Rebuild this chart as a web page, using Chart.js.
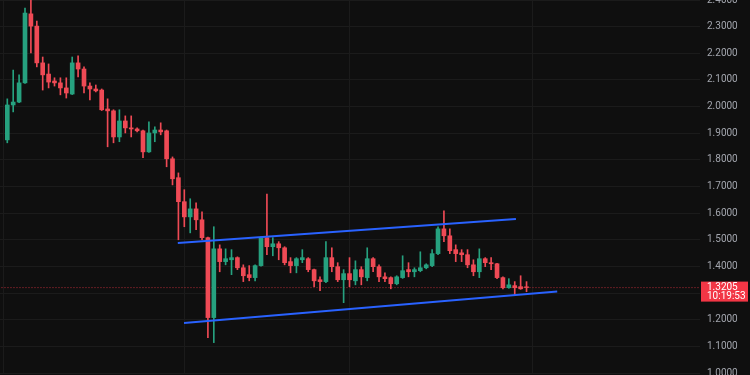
<!DOCTYPE html>
<html>
<head>
<meta charset="utf-8">
<script src="https://cdn.jsdelivr.net/npm/chart.js@4.4.0/dist/chart.umd.min.js"></script>
<style>
  html, body { margin: 0; padding: 0; background: #0f0f0f; }
  #wrap { width: 750px; height: 375px; position: relative; }
</style>
</head>
<body>
<div id="wrap"><canvas id="candleChart"></canvas></div>
<script>
// bougies (OHLC)
var opens = [1.875,2.006,2.017,2.089,2.348,2.302,2.164,2.122,2.096,2.089,
  2.070,2.047,2.164,2.141,2.077,2.066,2.062,1.991,1.984,1.886,
  1.946,1.920,1.916,1.909,1.830,1.901,1.912,1.909,1.804,1.733,
  1.643,1.586,1.616,1.575,1.508,1.208,1.466,1.418,1.425,1.433,
  1.395,1.369,1.358,1.403,1.508,1.474,1.485,1.470,1.418,1.403,
  1.425,1.429,1.388,1.350,1.343,1.433,1.399,1.350,1.373,1.346,
  1.388,1.358,1.429,1.399,1.361,1.358,1.335,1.358,1.388,1.380,
  1.384,1.395,1.403,1.448,1.541,1.515,1.463,1.451,1.444,1.406,
  1.380,1.429,1.414,1.410,1.358,1.320,1.328,1.324,1.3235];
var closes = [2.006,2.017,2.089,2.351,2.302,2.164,2.119,2.092,2.089,2.070,
  2.051,2.164,2.141,2.077,2.066,2.059,1.988,1.984,1.886,1.946,
  1.920,1.916,1.909,1.830,1.901,1.912,1.905,1.804,1.729,1.643,
  1.586,1.616,1.575,1.508,1.208,1.466,1.418,1.429,1.433,1.395,
  1.365,1.358,1.403,1.508,1.474,1.485,1.470,1.414,1.403,1.429,
  1.433,1.388,1.346,1.343,1.433,1.399,1.350,1.373,1.350,1.388,
  1.361,1.429,1.399,1.361,1.354,1.335,1.361,1.384,1.380,1.388,
  1.395,1.406,1.448,1.541,1.515,1.459,1.448,1.444,1.406,1.380,
  1.429,1.414,1.410,1.358,1.320,1.331,1.320,1.316,1.3205];
var highs = [2.029,2.137,2.119,2.370,2.42,2.321,2.186,2.160,2.108,2.108,
  2.108,2.186,2.190,2.149,2.089,2.081,2.066,2.029,1.988,1.988,
  1.965,1.965,1.920,1.912,1.943,1.924,1.939,1.912,1.811,1.751,
  1.688,1.654,1.639,1.605,1.510,1.549,1.481,1.466,1.463,1.436,
  1.406,1.403,1.406,1.511,1.672,1.508,1.493,1.474,1.433,1.433,
  1.463,1.433,1.390,1.361,1.493,1.470,1.414,1.388,1.433,1.421,
  1.399,1.470,1.433,1.406,1.376,1.361,1.365,1.440,1.414,1.395,
  1.455,1.410,1.463,1.549,1.609,1.541,1.481,1.463,1.463,1.425,
  1.466,1.433,1.433,1.412,1.361,1.354,1.343,1.365,1.343];
var lows = [1.864,1.980,2.015,2.087,2.201,2.149,2.062,2.070,2.077,2.044,
  2.032,2.045,2.111,2.051,2.025,2.055,1.985,1.849,1.864,1.868,
  1.901,1.886,1.905,1.808,1.828,1.868,1.894,1.774,1.706,1.500,
  1.549,1.526,1.538,1.500,1.133,1.114,1.380,1.406,1.369,1.388,
  1.343,1.346,1.346,1.401,1.444,1.440,1.425,1.406,1.376,1.376,
  1.414,1.380,1.324,1.309,1.339,1.380,1.343,1.264,1.324,1.331,
  1.331,1.346,1.380,1.343,1.343,1.316,1.331,1.355,1.361,1.361,
  1.380,1.391,1.399,1.444,1.493,1.448,1.418,1.418,1.395,1.365,
  1.358,1.399,1.388,1.354,1.316,1.318,1.294,1.314,1.305];

// canal (index de bougie, prix)
var channelUpper = [[28.9, 1.488], [86.2, 1.578]];
var channelLower = [[29.95, 1.188], [93.2, 1.306]];

var lastPrice = 1.3205;
var lastTime = "10:19:53";
var dayLines = [-0.7, 30, 58, 89];

var green = '#26a17f', red = '#ef4a55';

document.addEventListener("DOMContentLoaded", function () {
  var colors = opens.map(function (o, i) { return closes[i] >= o ? green : red; });
  var wicks = opens.map(function (o, i) { return { x: i, y: [lows[i], highs[i]] }; });
  var bodies = opens.map(function (o, i) { return { x: i, y: [o, closes[i]] }; });
  var toPts = function (arr) { return arr.map(function (p) { return { x: p[0], y: p[1] }; }); };

  var priceLabel = {
    id: 'priceLabel',
    afterDraw: function (chart) {
      var c = chart.ctx, a = chart.chartArea;
      var y = chart.scales.y.getPixelForValue(lastPrice);
      c.save();
      c.fillStyle = '#f23645';
      c.fillRect(a.right + 1, y - 6, chart.width - a.right - 3, 20);
      c.fillStyle = '#ffffff';
      c.font = '10px Roboto';
      c.textBaseline = 'middle';
      c.fillText(lastPrice.toFixed(4), a.right + 7, y);
      c.fillText(lastTime, a.right + 7, y + 9);
      c.restore();
    }
  };

  var ctx = document.getElementById("candleChart").getContext("2d");
  new Chart(ctx, {
    type: 'bar',
    data: {
      datasets: [
        { type: 'line', data: toPts(channelUpper), borderColor: '#2962ff', borderWidth: 2, pointRadius: 0, order: 0 },
        { type: 'line', data: toPts(channelLower), borderColor: '#2962ff', borderWidth: 2, pointRadius: 0, order: 0 },
        { data: bodies, backgroundColor: colors, barThickness: 4, grouped: false, order: 2 },
        { data: wicks, backgroundColor: colors, barThickness: 1, grouped: false, order: 3 },
        { type: 'line', data: [{ x: -2, y: lastPrice }, { x: 120, y: lastPrice }], borderColor: 'rgba(242,54,69,0.75)',
          borderWidth: 1, borderDash: [1, 2], pointRadius: 0, order: 4 }
      ]
    },
    options: {
      responsive: true,
      maintainAspectRatio: false,
      animation: false,
      layout: { padding: 0 },
      plugins: { legend: { display: false }, tooltip: { enabled: false } },
      scales: {
        x: {
          type: 'linear',
          min: -1.237,
          max: 117.4,
          offset: false,
          afterBuildTicks: function (s) { s.ticks = dayLines.map(function (v) { return { value: v }; }); },
          afterFit: function (s) { s.height = 2; s.paddingLeft = 0; s.paddingRight = 0; },
          ticks: { display: false },
          grid: { color: '#1b1b1b', drawTicks: false, offset: false },
          border: { display: false }
        },
        y: {
          position: 'right',
          min: 1.0,
          max: 2.4,
          afterFit: function (s) { s.width = 50; s.paddingTop = 0; s.paddingBottom = 0; },
          ticks: {
            stepSize: 0.1,
            padding: 7,
            color: '#a3a6ae',
            font: { family: 'Roboto', size: 10 },
            callback: function (v) { return v.toFixed(4); }
          },
          grid: { color: '#1b1b1b', drawTicks: false },
          border: { display: false }
        }
      }
    },
    plugins: [priceLabel]
  });
});
</script>
</body>
</html>
